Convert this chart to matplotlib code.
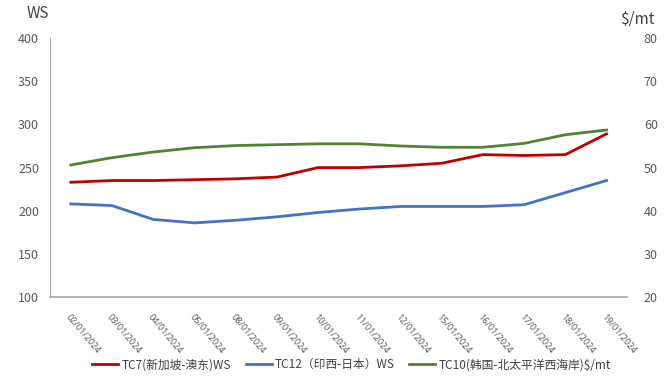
import matplotlib.pyplot as plt

plt.rcParams['font.family'] = ['Noto Sans CJK SC', 'DejaVu Sans']

dates = ['02/01/2024', '03/01/2024', '04/01/2024', '05/01/2024', '08/01/2024',
         '09/01/2024', '10/01/2024', '11/01/2024', '12/01/2024', '15/01/2024',
         '16/01/2024', '17/01/2024', '18/01/2024', '19/01/2024']

tc7 = [233, 235, 235, 236, 237, 239, 250, 250, 252, 255, 265, 264, 265, 289]
tc12 = [208, 206, 190, 186, 189, 193, 198, 202, 205, 205, 205, 207, 221, 235]
tc10 = [50.6, 52.3, 53.6, 54.6, 55.1, 55.3, 55.5, 55.5, 55.0, 54.7, 54.7, 55.6, 57.6, 58.7]

labels = ['TC7(新加坡-澳东)WS', 'TC12（印西-日本）WS', 'TC10(韩国-北太平洋西海岸)$/mt']
colors = ['#C00000', '#4472C4', '#548235']
grey = '#595959'

fig = plt.figure(figsize=(6.7, 3.8), dpi=100)
ax = fig.add_axes([0.075, 0.218, 0.861, 0.682])
ax2 = ax.twinx()

x = list(range(len(dates)))
l1, = ax.plot(x, tc7, color=colors[0], lw=2)
l2, = ax.plot(x, tc12, color=colors[1], lw=2)
l3, = ax2.plot(x, tc10, color=colors[2], lw=2)

ax.set_xlim(-0.5, len(dates) - 0.5)
ax.set_ylim(100, 400)
ax2.set_ylim(20, 80)
ax.set_yticks(range(100, 401, 50))
ax2.set_yticks(range(20, 81, 10))

for a in (ax, ax2):
    for s in a.spines.values():
        s.set_visible(False)
    a.tick_params(length=0, labelsize=9, colors=grey)
ax.spines['left'].set_visible(True)
ax.spines['left'].set_color('#A6A6A6')
ax.spines['bottom'].set_visible(True)
ax.spines['bottom'].set_color('#A6A6A6')
ax.spines['bottom'].set_linewidth(1.2)
ax.tick_params(axis='y', pad=8)
ax2.tick_params(axis='y', pad=12)

ax.set_xticks(x)
ax.set_xticklabels(dates, rotation=-50, ha='left', va='top',
                   rotation_mode='anchor', fontsize=6.5, family='Noto Sans')
ax.tick_params(axis='x', pad=11)

fig.text(0.04, 0.965, 'WS', fontsize=11, color='#404040', ha='left', va='center')
fig.text(0.925, 0.95, '$/mt', fontsize=11, color='#404040', ha='left', va='center')

fig.legend([l1, l2, l3], labels, loc='center', bbox_to_anchor=(0.525, 0.04),
           ncol=3, frameon=False, fontsize=8.5, handlelength=2.2,
           columnspacing=1.2, handletextpad=0.3, labelcolor='#404040')

fig.savefig('out.png', dpi=100)
